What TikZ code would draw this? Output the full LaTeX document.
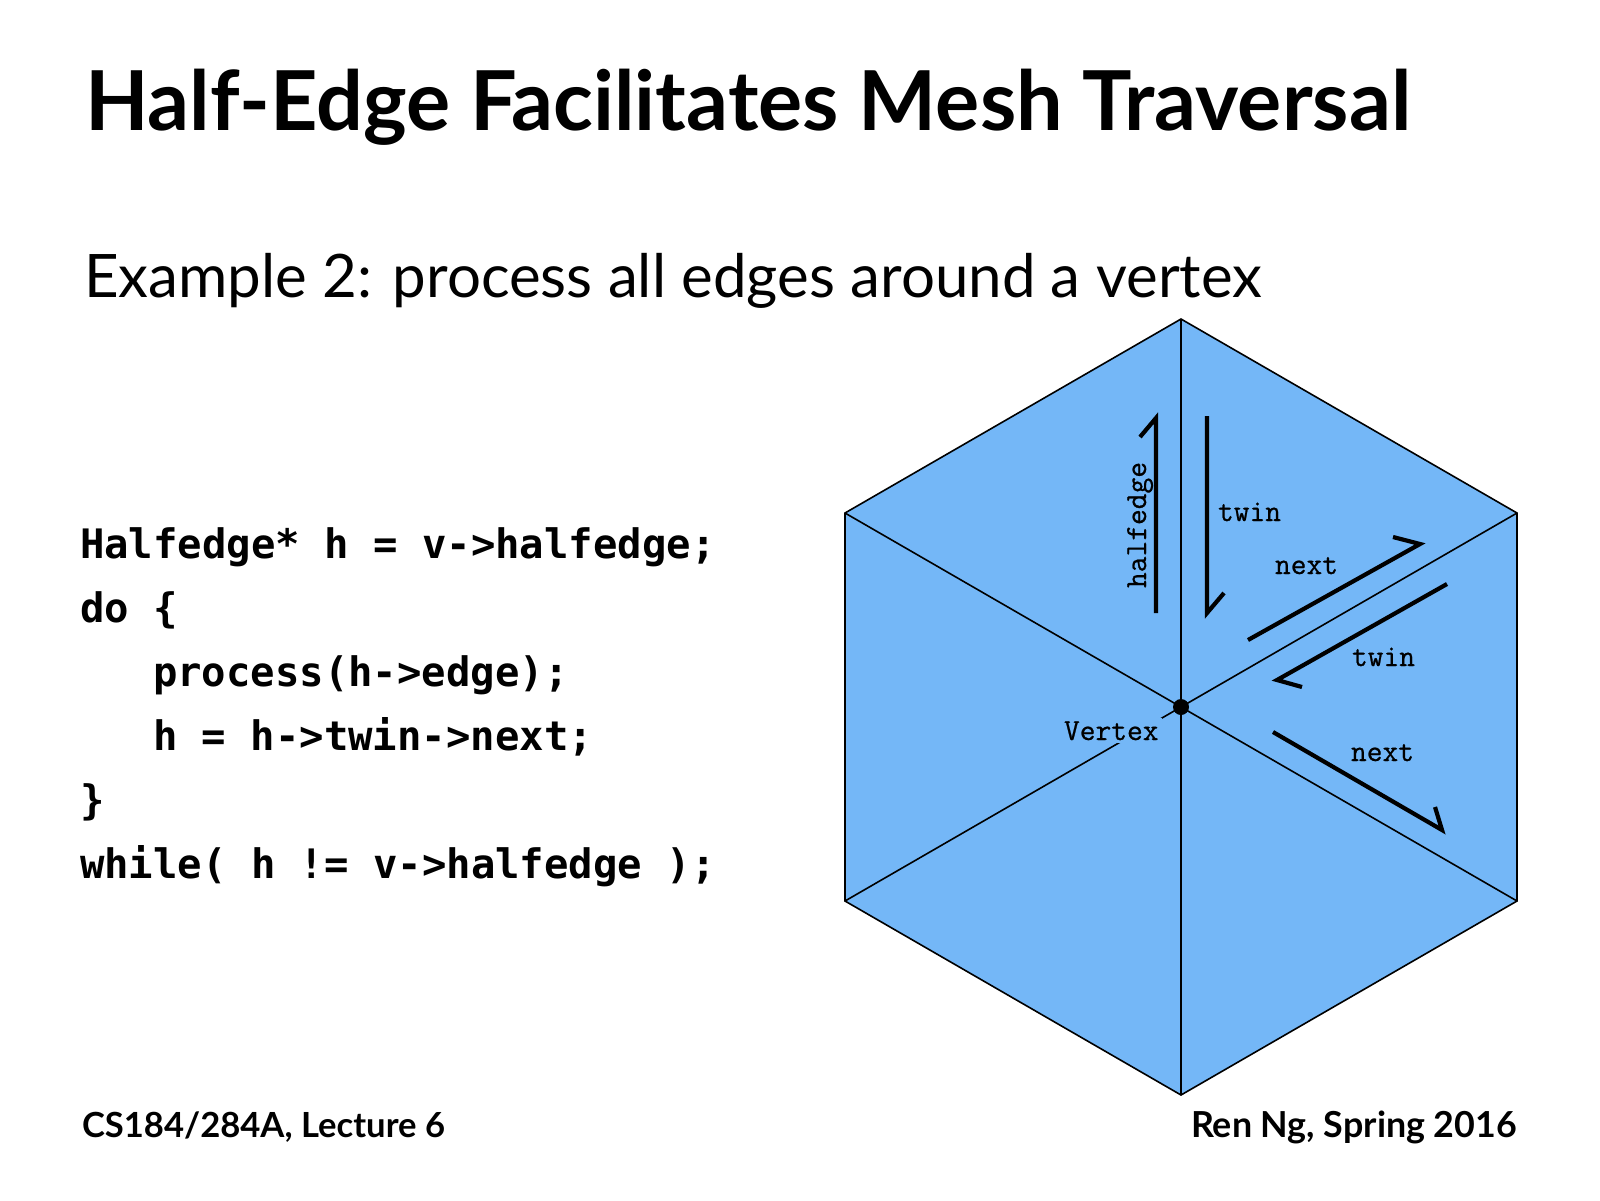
\documentclass[tikz,border=0pt]{standalone}
\usepackage{fontspec}
\setmainfont{Lato}
\newfontfamily\codefont{DejaVu Sans Mono}
\newfontfamily\labfont{Latin Modern Mono}[FakeBold=0.7]
\definecolor{hexblue}{RGB}{116,183,247}
\begin{document}
\begin{tikzpicture}[x=0.5pt,y=-0.5pt,
  txt/.style={inner sep=0pt, outer sep=0pt, anchor=base west},
  txtr/.style={inner sep=0pt, outer sep=0pt, anchor=base east},
  code/.style={txt, font=\codefont\bfseries\fontsize{20.3pt}{24pt}\selectfont},
  lab/.style={txt, font=\labfont\fontsize{15.3pt}{18pt}\selectfont},
  meshline/.style={line width=0.8pt, line join=miter},
  hedge/.style={line width=2.1pt, line join=miter, line cap=butt}]
\fill[white] (0,0) rectangle (1600,1200);
\useasboundingbox (0,0) rectangle (1600,1200);

% titles
\node[txt] (title) at (85,130) {\resizebox{663pt}{!}{\bfseries Half-Edge Facilitates Mesh Traversal}};
\node[txt] (subtitle) at (84,297) {\resizebox{589pt}{!}{Example 2: process all edges around a vertex}};

% code
\node[code] (c1) at (80,558) {Halfedge* h = v->halfedge;};
\node[code] (c2) at (80,622) {do \{};
\node[code] (c3) at (153,686) {process(h->edge);};
\node[code] (c4) at (153,750) {h = h->twin->next;};
\node[code] (c5) at (80,814) {\}};
\node[code] (c6) at (80,878) {while( h != v->halfedge );};

% footer
\node[txt] (fl) at (82,1137) {\resizebox{181.5pt}{!}{\bfseries CS184/284A, Lecture 6}};
\node[txtr] (fr) at (1517,1137) {\resizebox{163pt}{!}{\bfseries Ren Ng, Spring 2016}};

% hexagon mesh
\coordinate (C) at (1181,707);
\coordinate (T) at (1181,319);
\coordinate (UR) at (1517,513);
\coordinate (LR) at (1517,901);
\coordinate (B) at (1181,1095);
\coordinate (LL) at (845,901);
\coordinate (UL) at (845,513);
\filldraw[fill=hexblue, meshline] (T) -- (UR) -- (LR) -- (B) -- (LL) -- (UL) -- cycle;
\draw[meshline] (T) -- (B);
\draw[meshline] (UR) -- (LL);
\draw[meshline] (UL) -- (LR);
\node[circle, fill=black, inner sep=0pt, minimum size=8pt] (v) at (C) {};
\node[lab, fill=hexblue, inner sep=1.5pt] (vlab) at (1061,740) {Vertex};

% half-edge arrows
\coordinate (he1) at (1156,613);
\coordinate (he2) at (1156,418);
\coordinate (he3) at (1140,437);
\draw[hedge] (he1) -- (he2) -- (he3);

\coordinate (tw1) at (1207,416);
\coordinate (tw2) at (1207,613);
\coordinate (tw3) at (1224,593);
\draw[hedge] (tw1) -- (tw2) -- (tw3);

\coordinate (nx1) at (1248,640);
\coordinate (nx2) at (1420,544);
\coordinate (nx3) at (1393,537);
\draw[hedge] (nx1) -- (nx2) -- (nx3);

\coordinate (tb1) at (1447,584);
\coordinate (tb2) at (1277,680);
\coordinate (tb3) at (1302,687);
\draw[hedge] (tb1) -- (tb2) -- (tb3);

\coordinate (nb1) at (1273,732);
\coordinate (nb2) at (1442,830);
\coordinate (nb3) at (1435,807);
\draw[hedge] (nb1) -- (nb2) -- (nb3);

% labels
\node[lab, rotate=90] (lhe) at (1146,588) {halfedge};
\node[lab] (ltw) at (1218,521) {twin};
\node[lab] (lnx) at (1275,574) {next};
\node[lab] (ltb) at (1352,666) {twin};
\node[lab] (lnb) at (1351,761) {next};
\end{tikzpicture}
\end{document}
